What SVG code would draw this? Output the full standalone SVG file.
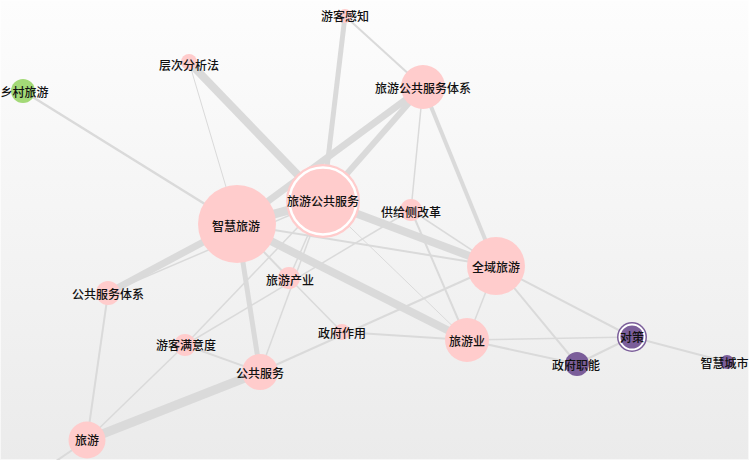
<svg xmlns="http://www.w3.org/2000/svg" width="749" height="460" viewBox="0 0 749 460">
<defs>
<linearGradient id="bg" x1="0" y1="0" x2="0" y2="1">
<stop offset="0" stop-color="#fdfdfd"/>
<stop offset="1" stop-color="#ebebeb"/>
</linearGradient>
<style>
.e{stroke:#dadada;fill:none;stroke-linecap:butt}
.pk{fill:#ffcccc}
.gr{fill:#a3d977}
.pu{fill:#7b5e9a}
text{font-family:"Noto Sans CJK SC","Noto Sans",sans-serif;font-size:12px;font-weight:500;fill:#111;text-anchor:middle}
</style>
</defs>
<rect x="0" y="0" width="749" height="460" fill="url(#bg)"/>
<rect x="0.5" y="0.5" width="748" height="459" fill="none" stroke="#ffffff" stroke-opacity="0.6"/>
<g id="edges">
<line class="e" x1="345" y1="16" x2="323" y2="201" stroke-width="5"/>
<line class="e" x1="345" y1="16" x2="423" y2="87" stroke-width="2"/>
<line class="e" x1="189" y1="62" x2="323" y2="201" stroke-width="8"/>
<line class="e" x1="189" y1="62" x2="237" y2="224" stroke-width="1"/>
<line class="e" x1="23" y1="91" x2="237" y2="224" stroke-width="2.5"/>
<line class="e" x1="423" y1="87" x2="237" y2="224" stroke-width="7"/>
<line class="e" x1="423" y1="87" x2="323" y2="201" stroke-width="6"/>
<line class="e" x1="423" y1="87" x2="411" y2="210" stroke-width="1.5"/>
<line class="e" x1="423" y1="87" x2="496" y2="266" stroke-width="4"/>
<line class="e" x1="237" y1="224" x2="323" y2="201" stroke-width="9"/>
<line class="e" x1="323" y1="201" x2="496" y2="266" stroke-width="8"/>
<line class="e" x1="237" y1="224" x2="496" y2="266" stroke-width="2"/>
<line class="e" x1="237" y1="224" x2="467" y2="340" stroke-width="8"/>
<line class="e" x1="237" y1="224" x2="108" y2="293" stroke-width="7"/>
<line class="e" x1="108" y1="293" x2="323" y2="201" stroke-width="1.5"/>
<line class="e" x1="237" y1="224" x2="260" y2="372" stroke-width="5"/>
<line class="e" x1="237" y1="224" x2="289" y2="278" stroke-width="2"/>
<line class="e" x1="289" y1="278" x2="323" y2="201" stroke-width="1.5"/>
<line class="e" x1="260" y1="372" x2="323" y2="201" stroke-width="1.5"/>
<line class="e" x1="289" y1="278" x2="342" y2="332" stroke-width="1.5"/>
<line class="e" x1="185" y1="345" x2="411" y2="210" stroke-width="1.5"/>
<line class="e" x1="185" y1="345" x2="323" y2="201" stroke-width="1.5"/>
<line class="e" x1="87" y1="440" x2="185" y2="345" stroke-width="1.5"/>
<line class="e" x1="87" y1="440" x2="108" y2="293" stroke-width="2"/>
<line class="e" x1="87" y1="440" x2="260" y2="372" stroke-width="9"/>
<line class="e" x1="87" y1="440" x2="40" y2="472" stroke-width="2"/>
<line class="e" x1="185" y1="345" x2="260" y2="372" stroke-width="2"/>
<line class="e" x1="260" y1="372" x2="496" y2="266" stroke-width="2"/>
<line class="e" x1="342" y1="332" x2="467" y2="340" stroke-width="2"/>
<line class="e" x1="323" y1="201" x2="467" y2="340" stroke-width="1"/>
<line class="e" x1="411" y1="210" x2="467" y2="340" stroke-width="2"/>
<line class="e" x1="411" y1="210" x2="496" y2="266" stroke-width="1.5"/>
<line class="e" x1="496" y1="266" x2="467" y2="340" stroke-width="1.5"/>
<line class="e" x1="467" y1="340" x2="632" y2="337" stroke-width="1.5"/>
<line class="e" x1="467" y1="340" x2="577" y2="364" stroke-width="2"/>
<line class="e" x1="496" y1="266" x2="577" y2="364" stroke-width="2"/>
<line class="e" x1="496" y1="266" x2="632" y2="337" stroke-width="2"/>
<line class="e" x1="577" y1="364" x2="632" y2="337" stroke-width="2"/>
<line class="e" x1="632" y1="337" x2="727" y2="362" stroke-width="2"/>
</g>
<g id="n-ykgz"><circle class="pk" cx="345" cy="16" r="7"/><text x="345" y="21">游客感知</text></g>
<g id="n-ccfx"><circle class="pk" cx="189" cy="62" r="8"/><text x="189" y="70">层次分析法</text></g>
<g id="n-xcly"><circle class="gr" cx="23" cy="91" r="12"/><text x="24.5" y="97">乡村旅游</text></g>
<g id="n-lyggfwtx"><circle class="pk" cx="423" cy="87" r="22"/><text x="423" y="93">旅游公共服务体系</text></g>
<g id="n-lyggfw"><circle class="pk" cx="323" cy="201" r="37"/><circle class="pk" cx="323" cy="201" r="33.5" stroke="#ffffff" stroke-width="2.5"/><text x="323" y="206">旅游公共服务</text></g>
<g id="n-zhly"><circle class="pk" cx="237" cy="224" r="39"/><text x="236" y="231">智慧旅游</text></g>
<g id="n-gjcgg"><circle class="pk" cx="411" cy="210" r="11"/><text x="411" y="217">供给侧改革</text></g>
<g id="n-qyly"><circle class="pk" cx="496" cy="266" r="29"/><text x="496" y="272">全域旅游</text></g>
<g id="n-lycy"><circle class="pk" cx="289" cy="278" r="11"/><text x="290" y="285">旅游产业</text></g>
<g id="n-ggfwtx"><circle class="pk" cx="108" cy="293" r="12"/><text x="108" y="299">公共服务体系</text></g>
<g id="n-zfzy"><circle class="pk" cx="342" cy="332" r="8"/><text x="342" y="338">政府作用</text></g>
<g id="n-lyy"><circle class="pk" cx="467" cy="340" r="22"/><text x="467" y="346">旅游业</text></g>
<g id="n-dc"><circle class="pu" cx="632" cy="337" r="15"/><circle class="pu" cx="632" cy="337" r="12.5" stroke="#ffffff" stroke-width="2"/><text x="632" y="342">对策</text></g>
<g id="n-zfzn"><circle class="pu" cx="577" cy="364" r="12"/><text x="576" y="370">政府职能</text></g>
<g id="n-zhcs"><circle class="pu" cx="727" cy="362" r="7"/><text x="724.5" y="368">智慧城市</text></g>
<g id="n-ykmyd"><circle class="pk" cx="185" cy="345" r="11"/><text x="186" y="350">游客满意度</text></g>
<g id="n-ggfw"><circle class="pk" cx="260" cy="372" r="18"/><text x="260" y="378">公共服务</text></g>
<g id="n-ly"><circle class="pk" cx="87" cy="440" r="18.5"/><text x="87" y="445">旅游</text></g>
</svg>
